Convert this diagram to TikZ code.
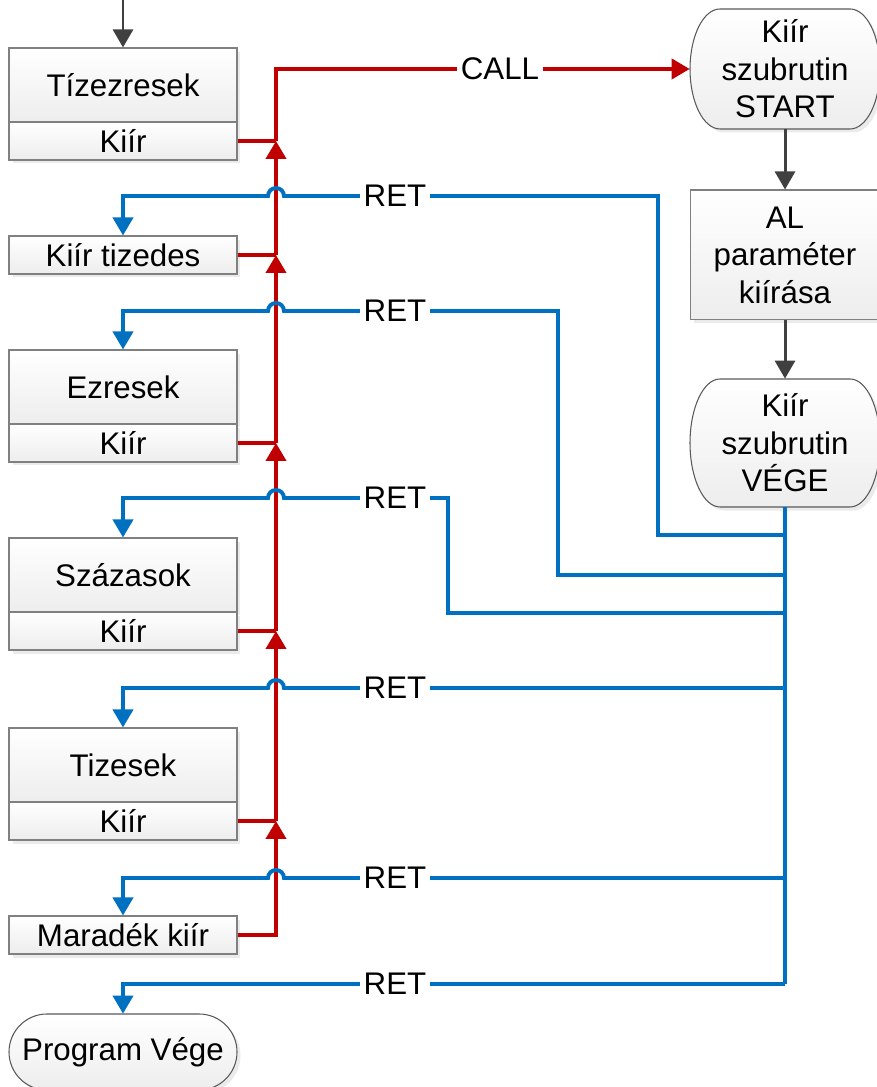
\documentclass[tikz,border=0pt]{standalone}
\usepackage{fontspec}
\setmainfont{Liberation Sans}
\usetikzlibrary{arrows.meta,shadows}

\definecolor{retblue}{RGB}{0,112,192}
\definecolor{callred}{RGB}{192,0,0}
\definecolor{flowgray}{RGB}{64,64,64}

\tikzset{
  txt/.style={font=\fontsize{17.8}{21.3}\selectfont,align=center},
  shade/.style={top color=white,bottom color=gray!14,
    drop shadow={shadow xshift=2pt,shadow yshift=-2pt,fill=gray!45,opacity=0.35}},
  box/.style={txt,shade,draw=gray,line width=0.6pt,inner sep=0pt,minimum width=4.56cm},
  bigbox/.style={box,minimum height=1.48cm},
  kiirbox/.style={box,minimum height=0.76cm},
  rightbox/.style={box,minimum width=3.8cm},
  termbox/.style={shade,draw=black!65,line width=0.6pt},
  termtext/.style={txt,inner sep=0pt,minimum width=3.8cm},
  lbl/.style={txt,inner sep=0.07cm},
  tip/.style={-{Triangle[length=0.36cm,width=0.4cm]}},
  flow/.style={draw=flowgray,line width=1.7pt,tip},
  redline/.style={draw=callred,line width=2.2pt},
  redarrow/.style={redline,tip},
  blueline/.style={draw=retblue,line width=2.2pt},
  bluearrow/.style={blueline,tip}
}

\newcommand{\termshape}[5]{%
  \path[termbox] (#1-#3+#5,#2+#4) -- (#1+#3-#5,#2+#4)
    arc[start angle=90,end angle=-90,x radius=#5,y radius=#4]
    -- (#1-#3+#5,#2-#4)
    arc[start angle=270,end angle=90,x radius=#5,y radius=#4] -- cycle;}

\begin{document}
\begin{tikzpicture}[x=0.02cm,y=0.02cm]
\useasboundingbox (0,0) rectangle (876,1087);
\node[bigbox] (tizezer) at (123,1002) {Tízezresek};
\node[kiirbox] (tizezerki) at (123,946) {Kiír};
\node[kiirbox] (tizedes) at (123,832) {Kiír tizedes};
\node[bigbox] (ezer) at (123,700) {Ezresek};
\node[kiirbox] (ezerki) at (123,644) {Kiír};
\node[bigbox] (szazas) at (123,512) {Százasok};
\node[kiirbox] (szazaski) at (123,456) {Kiír};
\node[bigbox] (tizes) at (123,322) {Tizesek};
\node[kiirbox] (tizeski) at (123,266) {Kiír};
\node[kiirbox] (maradek) at (123,152) {Maradék kiír};
\termshape{123}{35}{114}{38}{38}
\node[termtext,minimum width=4.56cm,minimum height=1.52cm] (progvege) at (123,35) {Program Vége};
\termshape{785}{1018}{95}{60}{30}
\node[termtext,minimum height=2.4cm] (start) at (785,1018) {Kiír\\szubrutin\\START};
\node[rightbox,minimum height=2.6cm] (al) at (785,832) {AL\\paraméter\\kiírása};
\termshape{785}{644}{95}{64}{30}
\node[termtext,minimum height=2.56cm] (vege) at (785,644) {Kiír\\szubrutin\\VÉGE};
\coordinate (be) at (123,1087);
\draw[flow] (be) -- (tizezer);
\draw[flow] (start) -- (al);
\draw[flow] (al) -- (vege);
\coordinate (j1) at (276,946);
\coordinate (j2) at (276,832);
\coordinate (j3) at (276,644);
\coordinate (j4) at (276,456);
\coordinate (j5) at (276,266);
\draw[redline] (tizezerki) -- (j1);
\draw[redline] (tizedes) -- (j2);
\draw[redline] (ezerki) -- (j3);
\draw[redline] (szazaski) -- (j4);
\draw[redline] (tizeski) -- (j5);
\draw[redarrow] (maradek) -| (j5);
\draw[redarrow] (j5) -- (j4);
\draw[redarrow] (j4) -- (j3);
\draw[redarrow] (j3) -- (j2);
\draw[redarrow] (j2) -- (j1);
\node[lbl] (call) at (500,1018) {CALL};
\draw[redarrow] (j1) |- (call) -- (start);
\coordinate (b1) at (785,552);
\coordinate (b2) at (785,512);
\coordinate (b3) at (785,474);
\coordinate (b4) at (785,399);
\coordinate (b5) at (785,209);
\coordinate (b6) at (785,103);
\draw[blueline] (vege) -- (b6);
\node[lbl] (ret1) at (395,891) {RET};
\node[lbl] (ret2) at (395,776) {RET};
\node[lbl] (ret3) at (395,589) {RET};
\node[lbl] (ret4) at (395,399) {RET};
\node[lbl] (ret5) at (395,209) {RET};
\node[lbl] (ret6) at (395,103) {RET};
\draw[bluearrow] (b1) -| (658,891) -- (ret1) -- (284,891) arc[start angle=0,end angle=180,radius=8] -- (123,891) -- (tizedes);
\draw[bluearrow] (b2) -| (558,776) -- (ret2) -- (284,776) arc[start angle=0,end angle=180,radius=8] -- (123,776) -- (ezer);
\draw[bluearrow] (b3) -| (448,589) -- (ret3) -- (284,589) arc[start angle=0,end angle=180,radius=8] -- (123,589) -- (szazas);
\draw[bluearrow] (b4) -- (ret4) -- (284,399) arc[start angle=0,end angle=180,radius=8] -- (123,399) -- (tizes);
\draw[bluearrow] (b5) -- (ret5) -- (284,209) arc[start angle=0,end angle=180,radius=8] -- (123,209) -- (maradek);
\draw[bluearrow] (b6) -- (ret6) -- (123,103) -- (progvege);
\end{tikzpicture}
\end{document}
